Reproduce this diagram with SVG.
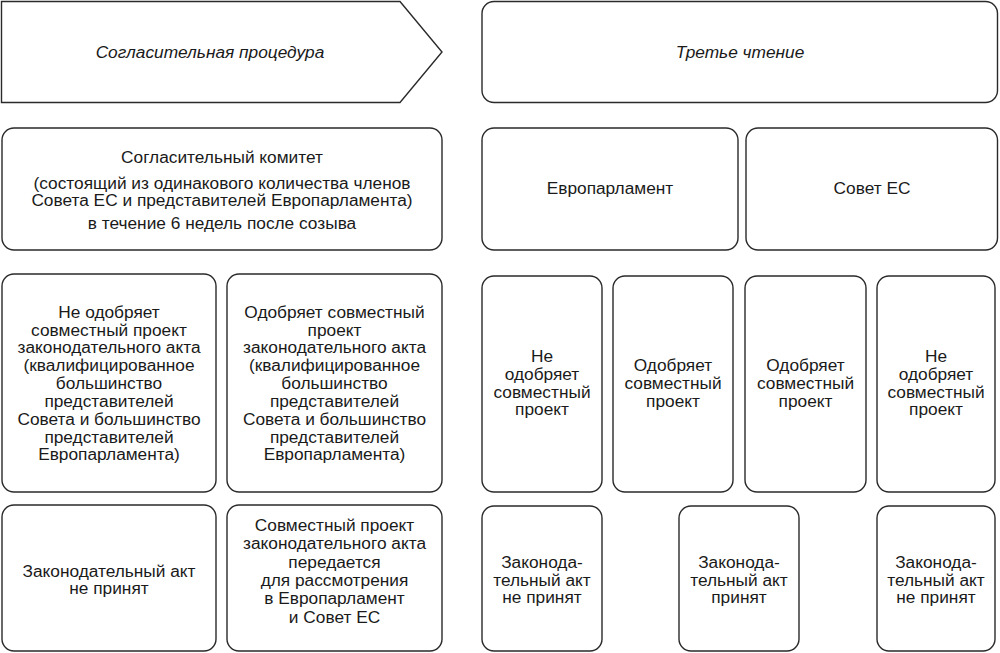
<svg xmlns="http://www.w3.org/2000/svg" width="1000" height="653" viewBox="0 0 1000 653">
<style>
.b{fill:#fff;stroke:#2a2a2a;stroke-width:1.4}
text{font-family:"Liberation Sans",Arial,sans-serif;font-size:17.3px;fill:#1a1a1a;text-anchor:middle}
.i{font-style:italic}
</style>
<rect width="1000" height="653" fill="#fff"/>
<g id="stage-conciliation">
<path class="b" d="M1.5,1.5 H400 L442,52 L400,102.5 H1.5 Z"/>
<text class="i" x="210" y="58">Согласительная процедура</text>
</g>
<g id="stage-third">
<rect class="b" x="482" y="1.5" width="515.5" height="101" rx="12"/>
<text class="i" x="740" y="58">Третье чтение</text>
</g>
<g id="committee">
<rect class="b" x="2" y="128" width="440" height="122" rx="12"/>
<text x="222" y="163">Согласительный комитет</text>
<text x="222" y="189">(состоящий из одинакового количества членов</text>
<text x="222" y="206">Совета ЕС и представителей Европарламента)</text>
<text x="222" y="229">в течение 6 недель после созыва</text>
</g>
<g id="ep">
<rect class="b" x="482" y="128" width="256" height="122" rx="12"/>
<text x="610" y="194">Европарламент</text>
</g>
<g id="council">
<rect class="b" x="746" y="128" width="251.5" height="122" rx="12"/>
<text x="872" y="194">Совет ЕС</text>
</g>
<g id="conc-reject">
<rect class="b" x="2" y="274" width="214" height="218" rx="12"/>
<text x="109" y="318">Не одобряет</text>
<text x="109" y="336">совместный проект</text>
<text x="109" y="353">законодательного акта</text>
<text x="109" y="371">(квалифицированное</text>
<text x="109" y="389">большинство</text>
<text x="109" y="407">представителей</text>
<text x="109" y="425">Совета и большинство</text>
<text x="109" y="443">представителей</text>
<text x="109" y="460">Европарламента)</text>
</g>
<g id="conc-approve">
<rect class="b" x="227" y="274" width="215" height="218" rx="12"/>
<text x="334.5" y="318">Одобряет совместный</text>
<text x="334.5" y="336">проект</text>
<text x="334.5" y="353">законодательного акта</text>
<text x="334.5" y="371">(квалифицированное</text>
<text x="334.5" y="389">большинство</text>
<text x="334.5" y="407">представителей</text>
<text x="334.5" y="425">Совета и большинство</text>
<text x="334.5" y="443">представителей</text>
<text x="334.5" y="460">Европарламента)</text>
</g>
<g id="ep-reject">
<rect class="b" x="482" y="276" width="120" height="216" rx="12"/>
<text x="542" y="362">Не</text>
<text x="542" y="380">одобряет</text>
<text x="542" y="398">совместный</text>
<text x="542" y="415">проект</text>
</g>
<g id="ep-approve">
<rect class="b" x="613" y="276" width="120" height="216" rx="12"/>
<text x="673" y="371">Одобряет</text>
<text x="673" y="389">совместный</text>
<text x="673" y="407">проект</text>
</g>
<g id="council-approve">
<rect class="b" x="745" y="276" width="121" height="216" rx="12"/>
<text x="805.5" y="371">Одобряет</text>
<text x="805.5" y="389">совместный</text>
<text x="805.5" y="407">проект</text>
</g>
<g id="council-reject">
<rect class="b" x="877" y="276" width="118" height="216" rx="12"/>
<text x="936" y="362">Не</text>
<text x="936" y="380">одобряет</text>
<text x="936" y="398">совместный</text>
<text x="936" y="415">проект</text>
</g>
<g id="conc-not-adopted">
<rect class="b" x="2" y="505" width="214" height="146" rx="12"/>
<text x="109" y="577">Законодательный акт</text>
<text x="109" y="594">не принят</text>
</g>
<g id="conc-forwarded">
<rect class="b" x="227" y="505" width="215" height="146" rx="12"/>
<text x="334.5" y="531">Совместный проект</text>
<text x="334.5" y="549">законодательного акта</text>
<text x="334.5" y="568">передается</text>
<text x="334.5" y="586">для рассмотрения</text>
<text x="334.5" y="604">в Европарламент</text>
<text x="334.5" y="623">и Совет ЕС</text>
</g>
<g id="third-not-adopted-1">
<rect class="b" x="482" y="506" width="120" height="145" rx="12"/>
<text x="542" y="568">Законода-</text>
<text x="542" y="586">тельный акт</text>
<text x="542" y="603">не принят</text>
</g>
<g id="third-adopted">
<rect class="b" x="679" y="506" width="120" height="145" rx="12"/>
<text x="739" y="568">Законода-</text>
<text x="739" y="586">тельный акт</text>
<text x="739" y="603">принят</text>
</g>
<g id="third-not-adopted-2">
<rect class="b" x="877" y="506" width="118" height="145" rx="12"/>
<text x="936" y="568">Законода-</text>
<text x="936" y="586">тельный акт</text>
<text x="936" y="603">не принят</text>
</g>
<g id="connectors"></g>
</svg>
